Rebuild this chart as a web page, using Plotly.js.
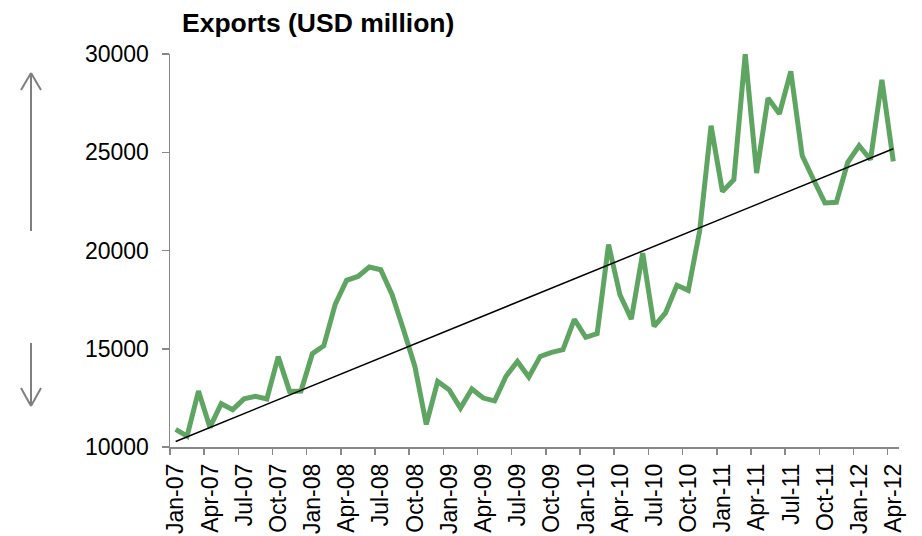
<!DOCTYPE html>
<html>
<head>
<meta charset="utf-8">
<script src="https://cdn.plot.ly/plotly-3.0.1.min.js"></script>
<style>html,body{margin:0;padding:0;background:#fff;}#chart{width:922px;height:536px;}</style>
</head>
<body>
<div id="chart"></div>
<script>
// Monthly categories Jan-07 .. Apr-12
const months = [
  'Jan-07','Feb-07','Mar-07','Apr-07','May-07','Jun-07','Jul-07','Aug-07','Sep-07','Oct-07','Nov-07','Dec-07',
  'Jan-08','Feb-08','Mar-08','Apr-08','May-08','Jun-08','Jul-08','Aug-08','Sep-08','Oct-08','Nov-08','Dec-08',
  'Jan-09','Feb-09','Mar-09','Apr-09','May-09','Jun-09','Jul-09','Aug-09','Sep-09','Oct-09','Nov-09','Dec-09',
  'Jan-10','Feb-10','Mar-10','Apr-10','May-10','Jun-10','Jul-10','Aug-10','Sep-10','Oct-10','Nov-10','Dec-10',
  'Jan-11','Feb-11','Mar-11','Apr-11','May-11','Jun-11','Jul-11','Aug-11','Sep-11','Oct-11','Nov-11','Dec-11',
  'Jan-12','Feb-12','Mar-12','Apr-12'
];
// Exports, USD million
const exportsUSD = [
  10900,10550,12850,11000,12200,11900,12450,12580,12440,14600,12830,12850,
  14750,15150,17250,18480,18680,19160,19020,17750,15970,14100,11150,13340,
  12920,11980,12950,12490,12350,13600,14350,13560,14610,14820,14950,16500,
  15580,15770,20300,17750,16510,19870,16140,16820,18230,17970,21000,26350,
  23000,23600,30000,23940,27760,26960,29120,24830,23600,22420,22450,24490,
  25330,24620,28690,24540
];
// Quarterly tick labels
const tickLabels = ['Jan-07','Apr-07','Jul-07','Oct-07','Jan-08','Apr-08','Jul-08','Oct-08',
  'Jan-09','Apr-09','Jul-09','Oct-09','Jan-10','Apr-10','Jul-10','Oct-10',
  'Jan-11','Apr-11','Jul-11','Oct-11','Jan-12','Apr-12'];
const yTicks = [10000,15000,20000,25000,30000];

// x positions = month index
const xIdx = months.map((_, i) => i);
const tickPos = tickLabels.map(l => months.indexOf(l) - 0.5);

// Linear trendline (least squares) from the data
const n = exportsUSD.length;
const mx = xIdx.reduce((a,b)=>a+b,0)/n;
const my = exportsUSD.reduce((a,b)=>a+b,0)/n;
let sxy = 0, sxx = 0;
for (let i = 0; i < n; i++) { sxy += (xIdx[i]-mx)*(exportsUSD[i]-my); sxx += (xIdx[i]-mx)*(xIdx[i]-mx); }
const slope = sxy/sxx, icpt = my - slope*mx;
const trendX = [xIdx[0], xIdx[n-1]];
const trendY = trendX.map(x => icpt + slope*x);

// Layout geometry
const M = {l:170, r:23, t:54, b:89};
const W = 922, H = 536;
const pw = W - M.l - M.r, ph = H - M.t - M.b;
const px2x = p => (p - M.l)/pw;
const py2y = p => (H - M.b - p)/ph;
const arrowLine = {color:'#7f7f7f', width:2};
function seg(x0,y0,x1,y1){
  return {type:'line', xref:'paper', yref:'paper', x0:px2x(x0), y0:py2y(y0), x1:px2x(x1), y1:py2y(y1), line:arrowLine};
}
const shapes = [
  seg(31,231,31,73), seg(31,73,21,90), seg(31,73,41,90),
  seg(31,343,31,406), seg(31,406,21,388), seg(31,406,41,388)
];

const font = {family:'Liberation Sans, Arial, sans-serif', color:'#000'};

const traces = [
  {x:xIdx, y:exportsUSD, type:'scatter', mode:'lines', line:{color:'#5fa562', width:5}, hoverinfo:'skip'},
  {x:trendX, y:trendY, type:'scatter', mode:'lines', line:{color:'#000', width:1.5}, hoverinfo:'skip'}
];

const layout = {
  width:W, height:H, margin:M, showlegend:false,
  paper_bgcolor:'#fff', plot_bgcolor:'#fff',
  font:font,
  title:{text:'<b>Exports (USD million)</b>', x:182/W, xanchor:'left', xref:'container', y:1-23/H, yanchor:'middle', font:{family:font.family, size:26.5, color:'#000'}},
  xaxis:{range:[-0.5, n-0.5], tickvals:tickPos, ticktext:tickLabels, tickangle:-90, ticklabelshift:6,
    showline:true, linecolor:'#888', linewidth:1.5, ticks:'outside', ticklen:6, tickcolor:'#888', tickwidth:1.5,
    showgrid:false, zeroline:false, tickfont:{family:font.family, size:23, color:'#000'}, fixedrange:true},
  yaxis:{range:[10000,30000], tickvals:yTicks, tickformat:'d',
    showline:true, linecolor:'#888', linewidth:1.5, ticks:'outside', ticklen:7, tickcolor:'#888', tickwidth:1.5,
    showgrid:false, zeroline:false, tickfont:{family:font.family, size:23, color:'#000'}, ticklabelstandoff:8, fixedrange:true},
  shapes:shapes
};
Plotly.newPlot('chart', traces, layout, {staticPlot:true, displayModeBar:false});
</script>
</body>
</html>
